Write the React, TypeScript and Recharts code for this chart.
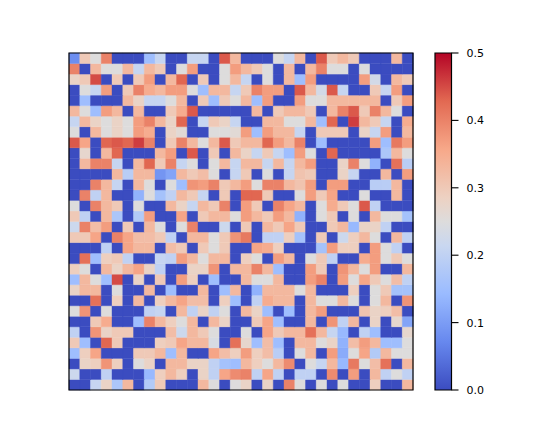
import { Bar, BarChart, Cell, ReferenceArea, XAxis, YAxis } from "recharts";

// heatmap values, in hundredths, top row first
const row00 = [8,30,25,40,0,0,0,15,21,0,0,21,21,0,44,33,0,0,0,25,21,33,0,44,30,33,30,0,0,0,33,0];
const row01 = [40,0,33,25,25,33,21,33,30,0,25,37,0,0,25,37,33,30,25,0,33,0,33,40,25,25,0,25,0,0,0,0];
const row02 = [28,30,45,0,30,0,30,37,0,33,43,0,30,0,25,33,21,0,25,0,33,15,37,0,0,0,0,37,23,0,33,30];
const row03 = [0,25,21,37,0,30,40,35,33,37,37,25,15,33,33,21,30,40,37,37,0,44,33,23,44,21,0,0,30,21,37,0];
const row04 = [0,15,0,0,0,33,28,21,21,25,33,0,30,15,30,25,33,15,37,0,0,37,25,25,33,33,33,33,33,0,30,37];
const row05 = [33,25,15,37,33,0,33,0,0,30,35,44,0,0,0,0,0,33,0,30,33,33,30,0,33,40,44,30,40,33,25,0];
const row06 = [21,33,28,25,28,25,37,40,33,28,43,0,21,30,28,21,0,0,33,33,25,25,33,15,43,0,46,33,30,21,0,35];
const row07 = [25,0,33,25,28,25,37,35,0,28,26,0,0,25,25,26,37,15,37,33,33,21,0,30,30,30,0,28,21,37,0,33];
const row08 = [44,36,0,43,44,43,46,40,0,30,40,33,25,33,44,30,33,33,43,37,33,40,0,15,0,0,0,0,37,15,41,37];
const row09 = [0,27,0,33,43,0,0,0,33,37,0,44,0,30,0,33,28,21,30,21,15,37,25,0,43,0,0,0,0,17,33,25];
const row10 = [0,33,40,40,21,0,33,43,30,40,21,25,0,25,33,21,33,33,21,33,21,33,37,0,0,28,40,25,13,0,42,19];
const row11 = [0,0,0,0,33,19,33,33,9,11,33,30,32,25,0,21,30,0,25,0,21,31,30,0,0,28,21,0,0,33,0,37];
const row12 = [0,0,40,33,21,0,33,25,0,25,15,38,37,40,30,33,37,25,40,40,33,31,37,0,37,37,0,0,19,19,33,0];
const row13 = [0,40,20,33,0,0,13,25,16,20,33,30,21,0,30,0,43,43,30,0,0,25,37,30,36,0,0,25,0,0,33,0];
const row14 = [25,0,40,33,30,0,25,0,0,33,28,21,33,30,40,0,37,30,0,40,36,33,0,25,35,30,25,44,20,0,0,0];
const row15 = [30,20,0,33,17,0,18,37,0,0,36,0,30,33,33,25,37,33,30,37,33,13,0,25,30,0,25,0,33,25,25,16];
const row16 = [22,40,32,37,0,30,0,33,25,0,25,40,0,0,22,0,30,0,33,30,36,30,0,0,30,33,14,28,28,20,0,0];
const row17 = [30,30,36,0,40,36,32,32,30,20,0,33,33,25,30,38,41,0,20,20,29,16,0,30,0,22,29,33,25,0,33,20];
const row18 = [0,0,0,20,0,36,33,33,0,32,30,0,30,25,30,0,0,36,35,29,0,0,0,16,37,29,29,0,37,25,20,0];
const row19 = [0,42,15,29,30,20,0,0,21,20,37,33,25,33,33,0,29,25,0,37,33,0,25,30,20,0,0,35,37,25,30,25];
const row20 = [29,25,0,33,28,33,36,28,20,0,0,28,28,38,0,33,33,40,33,15,0,0,37,30,0,38,33,25,37,0,0,33];
const row21 = [15,33,25,15,45,0,28,0,30,0,37,29,0,15,0,0,33,25,25,33,0,0,37,40,0,37,25,36,30,25,32,20];
const row22 = [28,33,33,0,25,0,0,33,0,15,0,0,33,0,15,33,0,13,33,33,33,25,33,0,0,0,29,0,25,30,16,16];
const row23 = [0,0,42,0,29,0,33,0,29,33,36,32,32,0,29,15,0,20,35,33,33,0,33,25,25,33,25,0,25,33,0,38];
const row24 = [25,38,0,25,0,0,0,20,21,0,33,20,28,20,25,0,33,28,15,0,15,0,33,37,0,0,0,31,28,29,32,0];
const row25 = [0,0,30,35,0,0,15,40,33,29,25,33,0,33,28,0,0,30,36,15,0,0,33,0,38,20,33,0,28,0,27,11];
const row26 = [20,0,38,28,30,30,0,0,0,32,22,33,30,25,0,0,25,0,36,30,33,33,42,33,21,14,0,20,15,0,0,27];
const row27 = [30,15,0,43,30,0,0,0,29,30,36,33,33,24,0,42,27,15,32,15,0,33,33,25,28,13,32,37,33,15,15,25];
const row28 = [15,29,36,0,0,0,30,30,33,15,33,0,0,36,32,29,37,29,32,19,0,25,33,0,37,12,25,36,18,33,25,25];
const row29 = [0,28,29,38,29,0,25,28,0,33,33,28,28,20,16,15,33,29,25,33,39,0,25,21,33,14,41,25,32,42,0,33];
const row30 = [22,0,0,20,0,0,0,14,29,33,29,0,28,20,36,39,40,20,36,20,0,20,20,0,39,0,37,0,33,20,25,20];
const row31 = [0,0,21,28,17,33,0,18,30,0,0,0,33,25,0,25,28,0,28,0,40,25,0,25,0,25,0,0,29,0,0,33];

const heatRows = [
  row00, row01, row02, row03, row04, row05, row06, row07,
  row08, row09, row10, row11, row12, row13, row14, row15,
  row16, row17, row18, row19, row20, row21, row22, row23,
  row24, row25, row26, row27, row28, row29, row30, row31,
];

const colorbarTicks = [0, 0.1, 0.2, 0.3, 0.4, 0.5];
const colormapStops = ["#3b4cc0", "#6788ee", "#9abbff", "#c9d7f0", "#edd1c2", "#f7a889", "#e26952", "#b40426"];

function hexToRgb(hex: string) {
  return [1, 3, 5].map((i) => parseInt(hex.slice(i, i + 2), 16));
}

// coolwarm lookup, t in 0..1 (0.5 goes through the grey midpoint)
function coolwarm(t: number) {
  const anchors = [0, 1 / 7, 2 / 7, 3 / 7, 0.5, 4 / 7, 5 / 7, 6 / 7, 1];
  const colors = [...colormapStops.slice(0, 4), "#dddcdc", ...colormapStops.slice(4)];
  let i = 0;
  while (i < anchors.length - 2 && t > anchors[i + 1]) i++;
  const k = (t - anchors[i]) / (anchors[i + 1] - anchors[i]);
  const a = hexToRgb(colors[i]);
  const b = hexToRgb(colors[i + 1]);
  return `rgb(${a.map((v, n) => Math.round(v + (b[n] - v) * k)).join(",")})`;
}

// one stacked column per x, every row is a unit tall segment
const columns = heatRows[0].map((_, col) => {
  const entry: Record<string, number> = { col };
  heatRows.forEach((_r, row) => {
    entry[`r${row}`] = 1;
  });
  return entry;
});

const rowOrder = heatRows.map((_, i) => heatRows.length - 1 - i);
const colorbarData = [{ name: "scale", value: 0.5 }];
const gradientOffsets = [0, 1 / 7, 2 / 7, 3 / 7, 0.5, 4 / 7, 5 / 7, 6 / 7, 1];
const layer = { position: "absolute", left: 0, top: 0 } as const;

export default function App() {
  return (
    <div style={{ position: "absolute", left: 0, top: 0, width: 555, height: 438, background: "#fff" }}>
      <div style={layer}>
        <BarChart
          width={555}
          height={438}
          data={columns}
          barCategoryGap={0}
          barGap={0}
          margin={{ top: 53, left: 69, right: 142, bottom: 48 }}
        >
          <XAxis dataKey="col" hide />
          <YAxis hide domain={[0, 32]} />
          {rowOrder.map((row) => (
            <Bar key={row} dataKey={`r${row}`} stackId="heat" isAnimationActive={false}>
              {columns.map((_, col) => {
                const color = coolwarm(heatRows[row][col] / 50);
                return <Cell key={col} fill={color} stroke={color} strokeWidth={0.4} />;
              })}
            </Bar>
          ))}
        </BarChart>
      </div>
      <div style={layer}>
        <BarChart
          width={555}
          height={438}
          data={colorbarData}
          barCategoryGap={0}
          margin={{ top: 53, left: 435, right: 43.5, bottom: 48 }}
        >
          <defs>
            <linearGradient id="coolwarmBar" x1="0" y1="1" x2="0" y2="0">
              {gradientOffsets.map((t) => (
                <stop key={t} offset={`${t * 100}%`} stopColor={coolwarm(t)} />
              ))}
            </linearGradient>
          </defs>
          <XAxis dataKey="name" hide />
          <YAxis
            orientation="right"
            width={60}
            domain={[0, 0.5]}
            ticks={colorbarTicks}
            tickFormatter={(v: number) => v.toFixed(1)}
            axisLine={false}
            tickLine={{ stroke: "#000", strokeWidth: 1.1 }}
            tickSize={7}
            tickMargin={8}
            interval={0}
            tick={{ fill: "#000", fontSize: 11, fontFamily: "DejaVu Sans" }}
          />
          <Bar dataKey="value" fill="url(#coolwarmBar)" isAnimationActive={false} />
        </BarChart>
      </div>
      {/* axes frames go on top of the cells */}
      <div style={layer}>
        <BarChart width={555} height={438} data={columns} margin={{ top: 53, left: 69, right: 142, bottom: 48 }}>
          <XAxis dataKey="col" hide />
          <YAxis hide domain={[0, 32]} />
          <Bar dataKey="r0" fill="none" isAnimationActive={false} />
          <ReferenceArea y1={0} y2={32} fill="none" stroke="#000" strokeWidth={1.2} ifOverflow="visible" />
        </BarChart>
      </div>
      <div style={layer}>
        <BarChart width={555} height={438} data={colorbarData} margin={{ top: 53, left: 435, right: 103.5, bottom: 48 }}>
          <XAxis dataKey="name" hide />
          <YAxis hide domain={[0, 0.5]} />
          <Bar dataKey="value" fill="none" isAnimationActive={false} />
          <ReferenceArea y1={0} y2={0.5} fill="none" stroke="#000" strokeWidth={1.2} ifOverflow="visible" />
        </BarChart>
      </div>
    </div>
  );
}
